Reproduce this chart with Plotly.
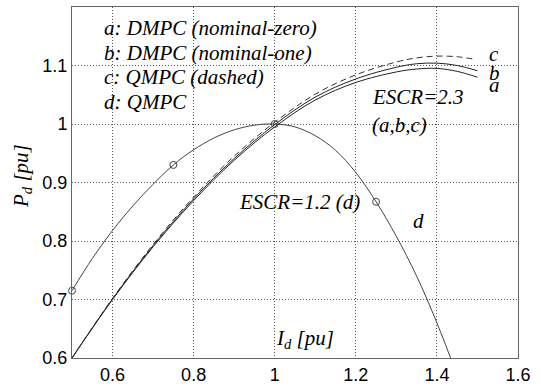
import plotly.graph_objects as go

# Data
x_ab = [0.5, 0.6, 0.7, 0.8, 0.9, 1.0, 1.1, 1.2, 1.3, 1.35, 1.4, 1.45, 1.5]
a_vals = [0.600, 0.700, 0.790, 0.869, 0.938, 0.995, 1.041, 1.071, 1.089, 1.094, 1.095, 1.090, 1.080]
b_vals = [0.600, 0.701, 0.792, 0.872, 0.941, 0.999, 1.046, 1.077, 1.097, 1.103, 1.104, 1.100, 1.091]
x_c = [0.5, 0.6, 0.7, 0.8, 0.9, 1.0, 1.1, 1.2, 1.3, 1.35, 1.4, 1.45, 1.49]
c_vals = [0.600, 0.702, 0.794, 0.875, 0.945, 1.003, 1.051, 1.084, 1.106, 1.113, 1.116, 1.115, 1.111]
x_d = [0.5, 0.55, 0.6, 0.65, 0.7, 0.75, 0.8, 0.85, 0.9, 0.95, 1.0, 1.05, 1.1, 1.15,
       1.2, 1.25, 1.3, 1.35, 1.4, 1.45]
d_vals = [0.715, 0.770, 0.818, 0.860, 0.897, 0.930, 0.956, 0.976, 0.990, 0.998, 1.000,
          0.995, 0.980, 0.955, 0.917, 0.867, 0.808, 0.740, 0.660, 0.570]
x_mark = [0.5, 0.75, 1.0, 1.25]
d_mark = [0.715, 0.930, 1.000, 0.867]

x_ticks = [0.6, 0.8, 1.0, 1.2, 1.4, 1.6]
x_ticklabels = ["0.6", "0.8", "1", "1.2", "1.4", "1.6"]
y_ticks = [0.6, 0.7, 0.8, 0.9, 1.0, 1.1]
y_ticklabels = ["0.6", "0.7", "0.8", "0.9", "1", "1.1"]

serif = "Times New Roman, Liberation Serif, Times, serif"
sans = "Arial, Liberation Sans, Helvetica, sans-serif"

fig = go.Figure()
fig.add_trace(go.Scatter(x=x_ab, y=a_vals, mode="lines", line=dict(color="#222", width=1, shape="spline")))
fig.add_trace(go.Scatter(x=x_ab, y=b_vals, mode="lines", line=dict(color="#222", width=1, shape="spline")))
fig.add_trace(go.Scatter(x=x_c, y=c_vals, mode="lines", line=dict(color="#333", width=1, dash="6px,4px", shape="spline")))
fig.add_trace(go.Scatter(x=x_d, y=d_vals, mode="lines", line=dict(color="#444", width=1, shape="spline")))
fig.add_trace(go.Scatter(x=x_mark, y=d_mark, mode="markers", cliponaxis=False,
                         marker=dict(symbol="circle-open", size=7, color="#444", line=dict(width=1, color="#444"))))

def ann(x, y, text, size=21, xanchor="left"):
    fig.add_annotation(x=x, y=y, xref="x", yref="y", text="<i>" + text + "</i>", showarrow=False,
                       xanchor=xanchor, yanchor="middle", font=dict(family=serif, size=size, color="black"))

ann(0.574, 1.164, "a: DMPC (nominal-zero)")
ann(0.574, 1.121, "b: DMPC (nominal-one)")
ann(0.574, 1.080, "c: QMPC (dashed)")
ann(0.574, 1.038, "d: QMPC")
ann(1.524, 1.119, "c")
ann(1.524, 1.088, "b")
ann(1.524, 1.066, "a")
ann(1.236, 1.046, "ESCR=2.3")
ann(1.236, 0.998, "(a,b,c)")
ann(0.907, 0.867, "ESCR=1.2 (d)")
ann(1.335, 0.834, "d")
ann(0.999, 0.633, "I<sub>d</sub> [pu]")

fig.add_annotation(x=(22 - 72) / 446, y=(358 - 176) / 351, xref="paper", yref="paper",
                   text="<i>P<sub>d</sub> [pu]</i>", showarrow=False, textangle=-90,
                   xanchor="center", yanchor="middle", font=dict(family=serif, size=21, color="black"))

axis_common = dict(showgrid=True, gridcolor="#555", griddash="1px,2px", gridwidth=1,
                   showline=True, linecolor="#666", linewidth=1, mirror=True,
                   ticks="", zeroline=False, automargin=False,
                   tickfont=dict(family=sans, size=18, color="black"))
fig.update_xaxes(range=[0.5, 1.6], tickvals=x_ticks, ticktext=x_ticklabels, **axis_common)
fig.update_yaxes(range=[0.6, 1.2], tickvals=y_ticks, ticktext=y_ticklabels, **axis_common)

fig.update_layout(width=541, height=387, margin=dict(l=72, r=23, t=7, b=29),
                  paper_bgcolor="white", plot_bgcolor="white", showlegend=False)

fig.write_html("out.html")
